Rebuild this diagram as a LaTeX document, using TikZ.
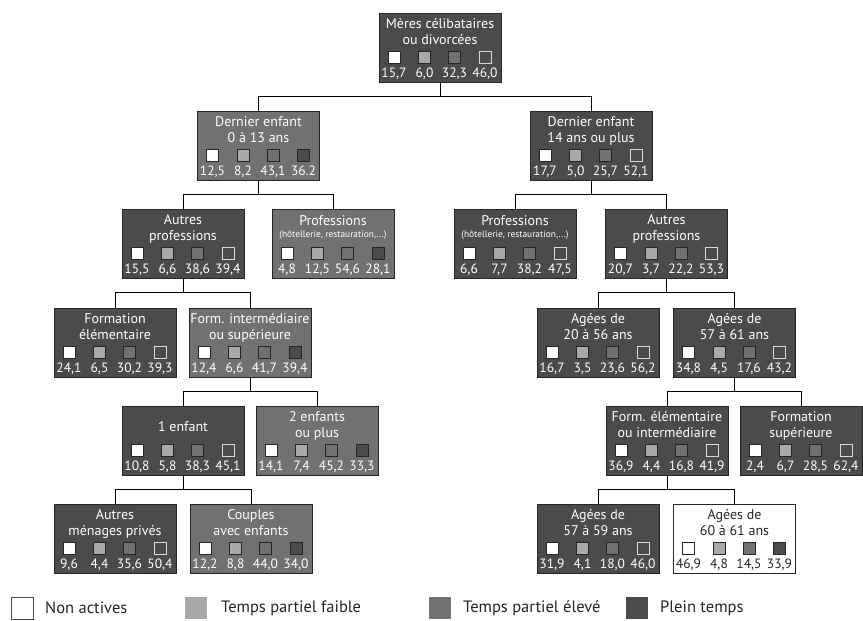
\documentclass[tikz,border=0pt]{standalone}
\usepackage{fontspec}
\setmainfont{PT Sans}
\usetikzlibrary{calc}
\definecolor{dk}{HTML}{4B4B4D}
\definecolor{md}{HTML}{717173}
\definecolor{lt}{HTML}{A9A9AB}
\definecolor{edge}{HTML}{262626}
\colorlet{dktxt}{white}
\colorlet{mdtxt}{white}
\colorlet{whtxt}{black!85}
\tikzset{
  box/.style={draw=edge, line width=1pt, minimum width=122pt, minimum height=69pt, inner sep=0pt, outer sep=0pt},
  dkbox/.style={box, fill=dk},
  mdbox/.style={box, fill=md},
  whbox/.style={box, fill=white},
  ttl/.style={font=\fontsize{14}{15}\selectfont, inner sep=0pt, anchor=base},
  sub/.style={font=\fontsize{9.4}{10}\selectfont, inner sep=0pt, anchor=base},
  num/.style={font=\fontsize{13.5}{14}\selectfont, inner sep=0pt, anchor=base},
  sq/.style={line width=0.8pt, draw=edge},
  dkA/.style={sq, fill=white}, dkB/.style={sq, fill=lt}, dkC/.style={sq, fill=md}, dkD/.style={sq, fill=dk, draw=white!85!black},
  mdA/.style={sq, fill=white}, mdB/.style={sq, fill=lt}, mdC/.style={sq, fill=md}, mdD/.style={sq, fill=dk},
  whA/.style={sq, fill=white}, whB/.style={sq, fill=lt}, whC/.style={sq, fill=md}, whD/.style={sq, fill=dk},
  conn/.style={draw=black, line width=0.9pt},
  legsq/.style={minimum width=22pt, minimum height=22pt, inner sep=0pt, outer sep=0pt},
  legtxt/.style={font=\fontsize{16.5}{18}\selectfont, text=black!85, inner sep=0pt, anchor=west},
}
\newcommand\nb[6]{%
  \node[#4box] (#1) at (#2,#3+34.5) {};
  \node[ttl,text=#4txt] (#1-a) at (#2,#3+15) {#5};
  \node[ttl,text=#4txt] (#1-b) at (#2,#3+31) {#6};
}
\newcommand\nbone[5]{%
  \node[#4box] (#1) at (#2,#3+34.5) {};
  \node[ttl,text=#4txt] (#1-a) at (#2,#3+25) {#5};
}
\newcommand\nbsub[6]{%
  \node[#4box] (#1) at (#2,#3+34.5) {};
  \node[ttl,text=#4txt] (#1-a) at (#2,#3+16) {#5};
  \node[sub,text=#4txt] (#1-b) at (#2,#3+28) {#6};
}
\newcommand\nv[6]{%
  \draw[#2A] ($(#1.north)+(-52,38)$) rectangle ++(12,12);
  \draw[#2B] ($(#1.north)+(-21.5,38)$) rectangle ++(12,12);
  \draw[#2C] ($(#1.north)+(8.5,38)$) rectangle ++(12,12);
  \draw[#2D] ($(#1.north)+(39,38)$) rectangle ++(12,12);
  \node[num,text=#2txt] (#1-n1) at ($(#1.north)+(-46,64.5)$) {#3};
  \node[num,text=#2txt] (#1-n2) at ($(#1.north)+(-15.5,64.5)$) {#4};
  \node[num,text=#2txt] (#1-n3) at ($(#1.north)+(14.5,64.5)$) {#5};
  \node[num,text=#2txt] (#1-n4) at ($(#1.north)+(45,64.5)$) {#6};
}
\newcommand\link[2]{\draw[conn] (#1.south) -- ++(0,14) -| (#2.north);}
\begin{document}
\begin{tikzpicture}[x=1pt,y=-1pt]
\useasboundingbox[fill=white] (0,0) rectangle (863,621);
% level 1
\nb{r}{440}{13}{dk}{Mères célibataires}{ou divorcées}
\nv{r}{dk}{15,7}{6,0}{32,3}{46,0}
% level 2
\nb{a}{258.5}{111}{md}{Dernier enfant}{0 à 13 ans}
\nv{a}{md}{12,5}{8,2}{43,1}{36.2}
\nb{b}{591}{111}{dk}{Dernier enfant}{14 ans ou plus}
\nv{b}{dk}{17,7}{5,0}{25,7}{52,1}
% level 3
\nb{a1}{183}{209}{dk}{Autres}{professions}
\nv{a1}{dk}{15,5}{6,6}{38,6}{39,4}
\nbsub{a2}{333}{209}{md}{Professions}{(hôtellerie, restauration,...)}
\nv{a2}{md}{4,8}{12,5}{54,6}{28,1}
\nbsub{b1}{515}{209}{dk}{Professions}{(hôtellerie, restauration,...)}
\nv{b1}{dk}{6,6}{7,7}{38,2}{47,5}
\nb{b2}{666.5}{209}{dk}{Autres}{professions}
\nv{b2}{dk}{20,7}{3,7}{22,2}{53,3}
% level 4
\nb{a11}{115}{308}{dk}{Formation}{élémentaire}
\nv{a11}{dk}{24,1}{6,5}{30,2}{39,3}
\nb{a12}{250}{308}{md}{Form. intermédiaire}{ou supérieure}
\nv{a12}{md}{12,4}{6,6}{41,7}{39,4}
\nb{b21}{598}{308}{dk}{Agées de}{20 à 56 ans}
\nv{b21}{dk}{16,7}{3,5}{23,6}{56,2}
\nb{b22}{734.5}{308}{dk}{Agées de}{57 à 61 ans}
\nv{b22}{dk}{34,8}{4,5}{17,6}{43,2}
% level 5
\nbone{a121}{183}{406}{dk}{1 enfant}
\nv{a121}{dk}{10,8}{5,8}{38,3}{45,1}
\nb{a122}{317}{406}{md}{2 enfants}{ou plus}
\nv{a122}{md}{14,1}{7,4}{45,2}{33,3}
\nb{b221}{667}{406}{dk}{Form. élémentaire}{ou intermédiaire}
\nv{b221}{dk}{36,9}{4,4}{16,8}{41,9}
\nb{b222}{801}{406}{dk}{Formation}{supérieure}
\nv{b222}{dk}{2,4}{6,7}{28,5}{62,4}
% level 6
\nb{a1211}{115}{504}{dk}{Autres}{ménages privés}
\nv{a1211}{dk}{9,6}{4,4}{35,6}{50,4}
\nb{a1212}{251}{504}{md}{Couples}{avec enfants}
\nv{a1212}{md}{12,2}{8,8}{44,0}{34,0}
\nb{b2211}{598}{504}{dk}{Agées de}{57 à 59 ans}
\nv{b2211}{dk}{31,9}{4,1}{18,0}{46,0}
\nb{b2212}{734.5}{504}{wh}{Agées de}{60 à 61 ans}
\nv{b2212}{wh}{46,9}{4,8}{14,5}{33,9}
% connectors
\link{r}{a}\link{r}{b}
\link{a}{a1}\link{a}{a2}
\link{b}{b1}\link{b}{b2}
\link{a1}{a11}\link{a1}{a12}
\link{b2}{b21}\link{b2}{b22}
\link{a12}{a121}\link{a12}{a122}
\link{b22}{b221}\link{b22}{b222}
\link{a121}{a1211}\link{a121}{a1212}
\link{b221}{b2211}\link{b221}{b2212}
% legend
\node[legsq, fill=white, draw=black!70, line width=0.8pt] (l1) at (22,608) {};
\node[legtxt] (l1t) at (45,608) {Non actives};
\node[legsq, fill=lt] (l2) at (196,608) {};
\node[legtxt] (l2t) at (221,608) {Temps partiel faible};
\node[legsq, fill=md] (l3) at (439.5,608) {};
\node[legtxt] (l3t) at (463,608) {Temps partiel élevé};
\node[legsq, fill=dk] (l4) at (636.5,608) {};
\node[legtxt] (l4t) at (660,608) {Plein temps};
\end{tikzpicture}
\end{document}
